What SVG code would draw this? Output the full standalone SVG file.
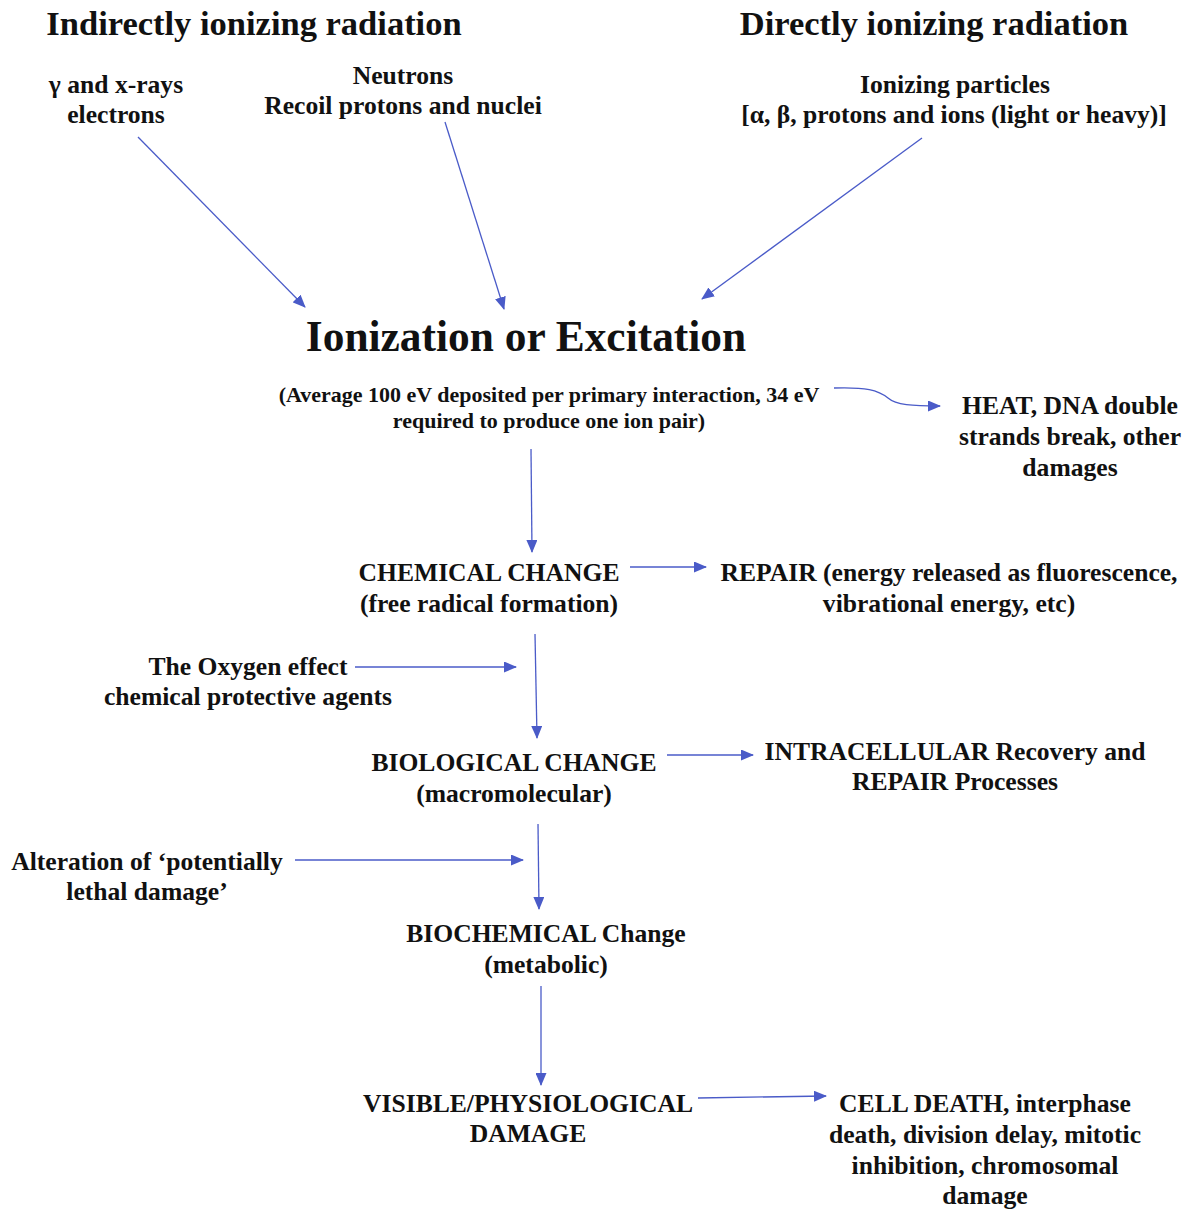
<svg xmlns="http://www.w3.org/2000/svg" width="1192" height="1209" viewBox="0 0 1192 1209">
<style>
text{font-family:"Liberation Serif","Times New Roman",serif;font-weight:bold;fill:#111;text-anchor:middle}
.h{font-size:34.5px}
.t{font-size:25.6px}
.s{font-size:22px}
.big{font-size:43.4px}
.c line,.c path{stroke:#4a5bc8;stroke-width:1.3;fill:none;marker-end:url(#ah)}
</style>
<defs>
<marker id="ah" viewBox="0 0 13 11" refX="12" refY="5.5" markerWidth="13" markerHeight="11" markerUnits="userSpaceOnUse" orient="auto">
<path d="M0,0 L13,5.5 L0,11 Z" fill="#4a5bc8"/>
</marker>
</defs>
<rect width="1192" height="1209" fill="#fff"/>
<g id="indirect-title"><text class="h" x="254" y="35">Indirectly ionizing radiation</text></g>
<g id="direct-title"><text class="h" x="934" y="35">Directly ionizing radiation</text></g>
<g id="gamma"><text class="t" x="116" y="93">γ and x-rays</text><text class="t" x="116" y="123">electrons</text></g>
<g id="neutrons"><text class="t" x="403" y="84">Neutrons</text><text class="t" x="403" y="114">Recoil protons and nuclei</text></g>
<g id="particles"><text class="t" x="955" y="93">Ionizing particles</text><text class="t" x="954" y="123">[α, β, protons and ions (light or heavy)]</text></g>
<g id="ionization"><text class="big" x="526" y="351">Ionization or Excitation</text>
<text class="s" x="549" y="402">(Average 100 eV deposited per primary interaction, 34 eV</text>
<text class="s" x="549" y="428">required to produce one ion pair)</text></g>
<g id="heat"><text class="t" x="1070" y="414">HEAT, DNA double</text><text class="t" x="1070" y="445">strands break, other</text><text class="t" x="1070" y="476">damages</text></g>
<g id="chemical"><text class="t" x="489" y="581">CHEMICAL CHANGE</text><text class="t" x="489" y="612">(free radical formation)</text></g>
<g id="repair"><text class="t" x="949" y="581">REPAIR (energy released as fluorescence,</text><text class="t" x="949" y="612">vibrational energy, etc)</text></g>
<g id="oxygen"><text class="t" x="248" y="675">The Oxygen effect</text><text class="t" x="248" y="705">chemical protective agents</text></g>
<g id="biological"><text class="t" x="514" y="771">BIOLOGICAL CHANGE</text><text class="t" x="514" y="802">(macromolecular)</text></g>
<g id="intracellular"><text class="t" x="955" y="760">INTRACELLULAR Recovery and</text><text class="t" x="955" y="790">REPAIR Processes</text></g>
<g id="alteration"><text class="t" x="147" y="870">Alteration of ‘potentially</text><text class="t" x="147" y="900">lethal damage’</text></g>
<g id="biochemical"><text class="t" x="546" y="942">BIOCHEMICAL Change</text><text class="t" x="546" y="973">(metabolic)</text></g>
<g id="visible"><text class="t" x="528" y="1112">VISIBLE/PHYSIOLOGICAL</text><text class="t" x="528" y="1142">DAMAGE</text></g>
<g id="celldeath"><text class="t" x="985" y="1112">CELL DEATH, interphase</text><text class="t" x="985" y="1143">death, division delay, mitotic</text><text class="t" x="985" y="1174">inhibition, chromosomal</text><text class="t" x="985" y="1204">damage</text></g>
<g id="connectors" class="c">
<line x1="138" y1="137" x2="305" y2="307"/>
<line x1="445" y1="122" x2="504" y2="309"/>
<line x1="922" y1="138" x2="702" y2="299"/>
<path d="M834,388 C866,387 878,390 888,398 C896,405 912,406 940,406"/>
<line x1="531" y1="449" x2="532" y2="552"/>
<line x1="630" y1="567" x2="706" y2="567"/>
<line x1="535" y1="634" x2="537" y2="738"/>
<line x1="355" y1="667" x2="516" y2="667"/>
<line x1="667" y1="755" x2="753" y2="755"/>
<line x1="538" y1="824" x2="539" y2="909"/>
<line x1="295" y1="860" x2="523" y2="860"/>
<line x1="541" y1="986" x2="541" y2="1085"/>
<line x1="698" y1="1098" x2="826" y2="1096"/>
</g>
</svg>
